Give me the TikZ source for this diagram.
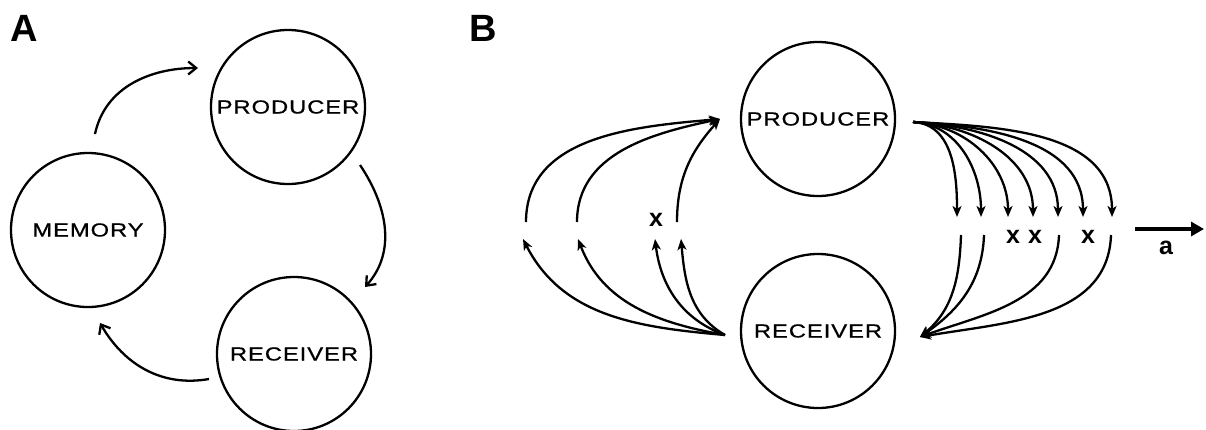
\documentclass[tikz,border=0pt]{standalone}
\usepackage{fontspec}
\usepackage{tikz}
\usetikzlibrary{%
  arrows.meta,%
  positioning%
}
\newfontfamily\agentfont[FakeStretch=1.25,LetterSpace=5,FakeBold=0.8]{Liberation Sans}
\newfontfamily\markfont{Liberation Sans}
\tikzset{
  agent/.style={draw,circle,line width=2.3pt,minimum size=154pt,inner sep=0pt,
    font=\agentfont\fontsize{19}{19}\selectfont},
  panel/.style={inner sep=0pt,font=\markfont\bfseries\fontsize{38}{38}\selectfont},
  blocked/.style={inner sep=0pt,font=\markfont\bfseries\fontsize{25}{25}\selectfont},
  flowA/.style={line width=2.3pt,-{Straight Barb[length=8pt,width=13pt]}},
  flowB/.style={line width=2.3pt,-{Stealth[length=11pt,width=9pt,inset=3pt]}}
}

\begin{document}
\begin{tikzpicture}[x=1pt,y=1pt]
    \useasboundingbox (0,0) rectangle (1206,-429);
    \node[panel] (labA) at (24,-28) {A};
    \node[panel] (labB) at (483,-28) {B};

    \node[agent] (prodA) at (288,-107) {PRODUCER};
    \node[agent] (memA) at (88,-230) {MEMORY};
    \node[agent] (recA) at (294,-354) {RECEIVER};
    \coordinate (mA) at (95,-134);
    \coordinate (pA) at (198,-68);
    \coordinate (pA2) at (360,-165);
    \coordinate (rA) at (365,-287);
    \coordinate (rA2) at (209,-379);
    \coordinate (mA2) at (100,-323);
    \draw[flowA] (mA) to[out=78,in=180] (pA);
    \draw[flowA] (pA2) to[out=-56,in=48] (rA);
    \draw[flowA] (rA2) to[out=190,in=-60] (mA2);

    \node[agent] (prodB) at (818,-119) {PRODUCER};
    \node[agent] (recB) at (818,-331) {RECEIVER};
    \coordinate (recOut) at (725,-335);
    \coordinate (prodIn) at (720,-119);
    \coordinate (prodOut) at (913,-122);
    \coordinate (recIn) at (920,-337);

    \foreach \n/\x/\o/\i in {1/523/175/-63,2/578/170/-69,3/655/160/-83,4/681/150/-85}{
      \coordinate (lt\n) at (\x,-239);
      \draw[flowB] (recOut) to[out=\o,in=\i] (lt\n);
    }
    \foreach \n/\x/\i in {1/526/185,2/577/192,4/677/228}{
      \coordinate (ls\n) at (\x,-222);
      \draw[flowB] (ls\n) to[out=90,in=\i] (prodIn);
    }
    \node[blocked] (xl3) at (656,-220) {x};

    \foreach \n/\x in {1/957,2/981,3/1008,4/1033,5/1058,6/1083,7/1112}{
      \coordinate (rt\n) at (\x,-217);
      \draw[flowB] (prodOut) to[out=-3,in=90] (rt\n);
    }
    \foreach \n/\x/\i in {1/961/40,2/984/35,5/1059/20,7/1111/10}{
      \coordinate (rs\n) at (\x,-235);
      \draw[flowB] (rs\n) to[out=-92,in=\i] (recIn);
    }
    \node[blocked] (xr3) at (1013,-237) {x};
    \node[blocked] (xr4) at (1035,-237) {x};
    \node[blocked] (xr6) at (1088,-237) {x};

    \coordinate (aStart) at (1135,-229);
    \coordinate (aEnd) at (1204,-229);
    \draw[line width=4.5pt,-{Triangle[length=13pt,width=14pt]}] (aStart) -- (aEnd);
    \node[blocked] (aLab) at (1166,-248) {a};
\end{tikzpicture}
\end{document}
